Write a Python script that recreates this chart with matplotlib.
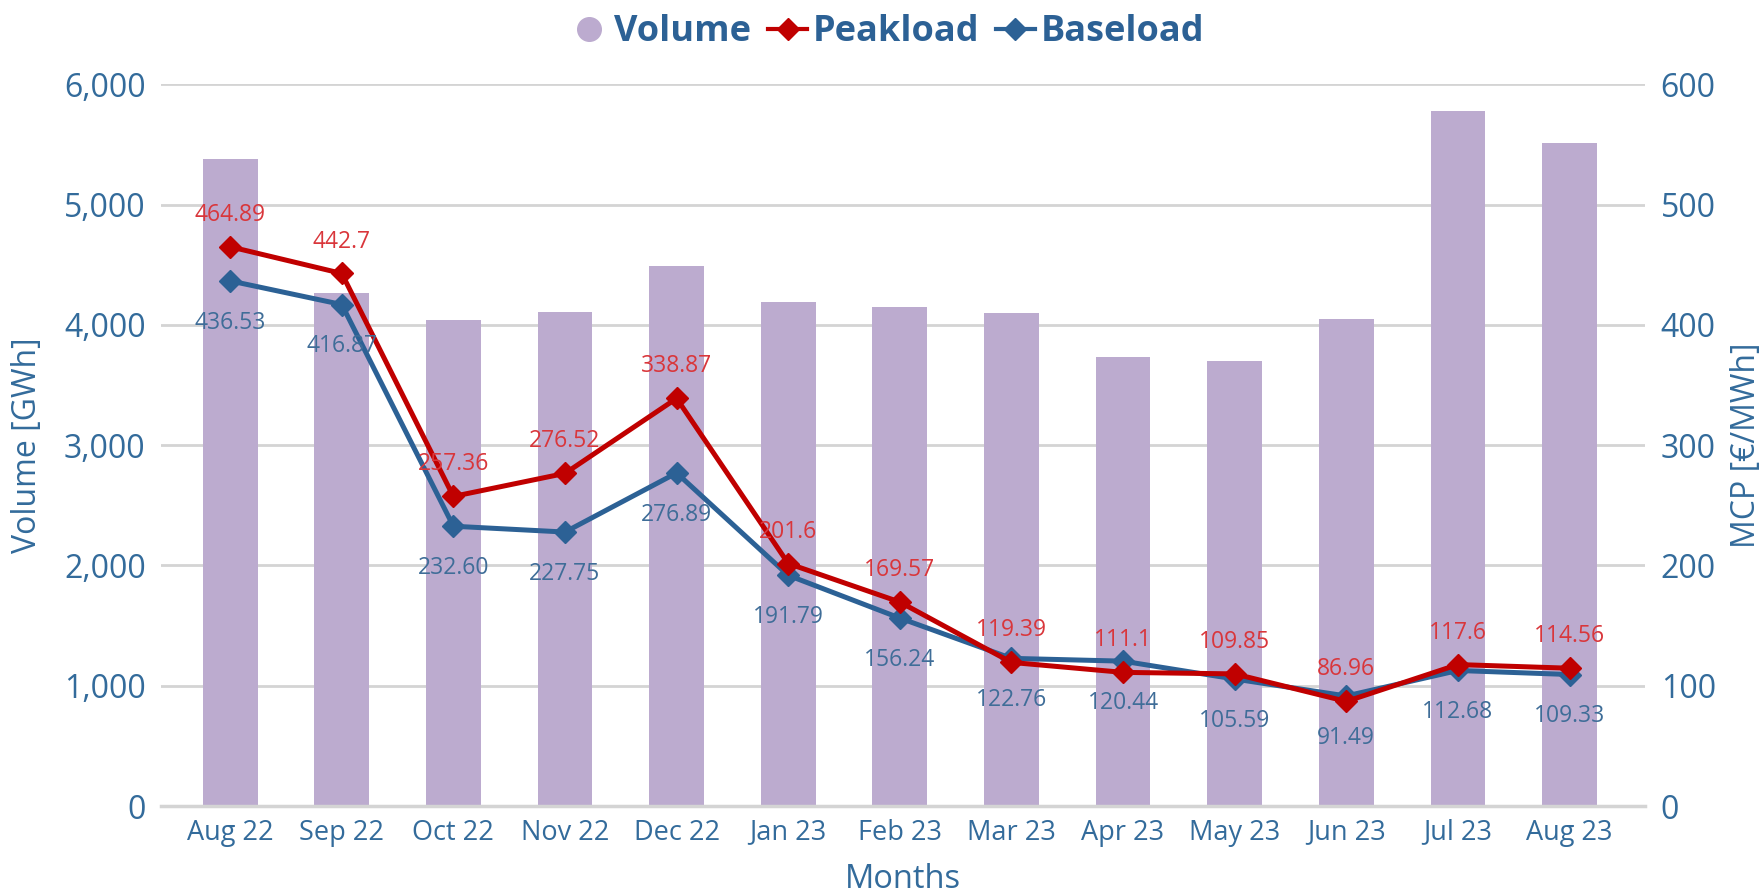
import matplotlib
matplotlib.use("Agg")
import matplotlib.pyplot as plt
from matplotlib.lines import Line2D
from matplotlib.ticker import FuncFormatter
import numpy as np

months = ["Aug 22", "Sep 22", "Oct 22", "Nov 22", "Dec 22", "Jan 23", "Feb 23",
          "Mar 23", "Apr 23", "May 23", "Jun 23", "Jul 23", "Aug 23"]
volume = [5380, 4265, 4040, 4110, 4490, 4190, 4150, 4095, 3730, 3700, 4050, 5780, 5515]
peakload = [464.89, 442.7, 257.36, 276.52, 338.87, 201.6, 169.57, 119.39, 111.1,
            109.85, 86.96, 117.6, 114.56]
baseload = [436.53, 416.87, 232.60, 227.75, 276.89, 191.79, 156.24, 122.76, 120.44,
            105.59, 91.49, 112.68, 109.33]

plt.rcParams['font.family'] = ['Open Sans', 'DejaVu Sans']

TXT = '#336b9b'
BAR = '#bcabcf'
RED = '#c00000'
BLUE = '#2c6195'
GRID = '#d4d4d4'

fig = plt.figure(figsize=(17.63, 8.96), dpi=100)
ax = fig.add_axes([0.0913, 0.1004, 0.842, 0.8056])
ax2 = ax.twinx()

x = np.arange(len(months))
ax.bar(x, volume, width=0.49, color=BAR, zorder=2)
ax.set_ylim(0, 6000)
ax.set_xlim(-0.62, 12.68)
ax.set_yticks(np.arange(0, 6001, 1000))
ax.yaxis.set_major_formatter(FuncFormatter(lambda v, p: f"{int(v):,}"))
ax.grid(axis='y', color=GRID, lw=2, zorder=0)
ax.set_axisbelow(True)

ax2.set_ylim(0, 600)
ax2.set_yticks(np.arange(0, 601, 100))
ax2.plot(x, peakload, color=RED, lw=3.6, marker='D', ms=11, zorder=4)
ax2.plot(x, baseload, color=BLUE, lw=3.6, marker='D', ms=11, zorder=3)

for xi, v in zip(x, peakload):
    ax2.annotate(f"{v:g}", (xi, v), xytext=(0, 23), textcoords='offset points',
                 ha='center', va='center', fontsize=16.5, color='#d9363b', zorder=6)
for xi, v in zip(x, baseload):
    ax2.annotate(f"{v:.2f}", (xi, v), xytext=(0, -30), textcoords='offset points',
                 ha='center', va='center', fontsize=16.5, color='#3f6d98', zorder=6)

for a in (ax, ax2):
    for s in a.spines.values():
        s.set_visible(False)
    a.tick_params(axis='y', length=0, labelsize=23, colors=TXT, pad=11)
ax.spines['bottom'].set_visible(True)
ax.spines['bottom'].set_color(GRID)
ax.spines['bottom'].set_linewidth(2.5)

ax.set_xticks(x)
ax.set_xticklabels(months)
ax.tick_params(axis='x', length=0, pad=9, labelsize=19.5, colors=TXT)
ax.set_xlabel("Months", fontsize=23.5, color=TXT, labelpad=12)
ax.set_ylabel("Volume [GWh]", fontsize=23, color=TXT, labelpad=14)
ax2.set_ylabel("MCP [€/MWh]", fontsize=23, color=TXT, labelpad=10)

handles = [
    Line2D([], [], ls='none', marker='o', ms=17, color=BAR),
    Line2D([], [], color=RED, lw=3, marker='D', ms=11),
    Line2D([], [], color=BLUE, lw=3, marker='D', ms=11),
]
leg = fig.legend(handles, ["Volume", "Peakload", "Baseload"], loc='center',
                 bbox_to_anchor=(0.503, 0.964), ncol=3, frameon=False,
                 prop={'size': 26, 'weight': 'bold'}, handlelength=1.1,
                 handletextpad=0.15, columnspacing=0.45)
for t in leg.get_texts():
    t.set_color(BLUE)

fig.savefig("out.png", dpi=100)
